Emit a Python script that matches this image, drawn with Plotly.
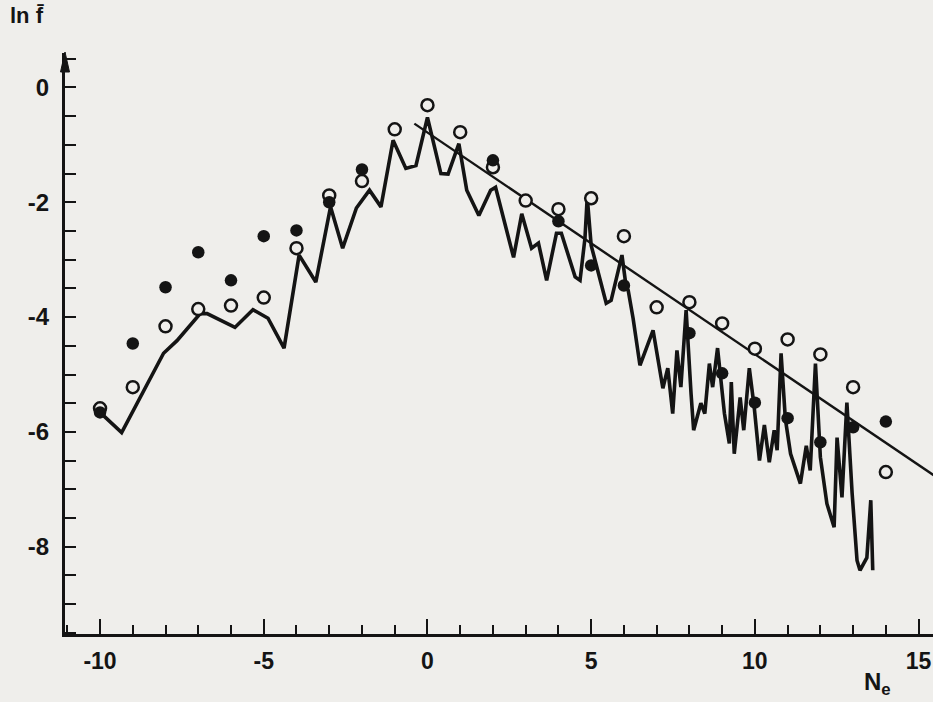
import plotly.graph_objects as go

# integer abscissae for the point series
pts_x = list(range(-10, 15))
open_y = [-5.59, -5.22, -4.16, -3.86, -3.80, -3.66, -2.80, -1.88, -1.63, -0.73,
          -0.31, -0.78, -1.39, -1.97, -2.12, -1.93, -2.59, -3.83, -3.74, -4.11,
          -4.55, -4.39, -4.65, -5.22, -6.70]
filled_y = [-5.66, -4.46, -3.48, -2.87, -3.36, -2.59, -2.49, -2.00, -1.43, None,
            None, None, -1.27, None, -2.33, -3.10, -3.45, None, -4.28, -4.98,
            -5.49, -5.76, -6.18, -5.92, -5.82]

line_x = [-10.0, -9.34, -8.06, -7.65, -6.94, -6.73, -5.88, -5.33, -4.87, -4.38,
          -3.92, -3.41, -2.96, -2.59, -2.17, -1.77, -1.42, -1.05, -0.66, -0.35,
          0.0, 0.41, 0.63, 0.96, 1.2, 1.57, 1.93, 2.08, 2.63, 2.88,
          3.18, 3.39, 3.64, 3.94, 4.09, 4.51, 4.66, 4.81, 4.88, 5.0,
          5.46, 5.61, 5.94, 6.07, 6.13, 6.28, 6.49, 6.89, 7.19, 7.34,
          7.49, 7.62, 7.74, 7.9, 8.05, 8.13, 8.35, 8.47, 8.61, 8.71,
          8.86, 9.07, 9.22, 9.28, 9.37, 9.55, 9.66, 9.83, 9.98, 10.14,
          10.29, 10.44, 10.59, 10.68, 10.8, 10.93, 11.09, 11.39, 11.57, 11.69,
          11.85, 12.0, 12.2, 12.42, 12.51, 12.66, 12.81, 12.97, 13.12, 13.21,
          13.42, 13.54, 13.6]
line_y = [-5.66, -6.01, -4.63, -4.41, -3.94, -3.94, -4.18, -3.87, -4.02, -4.54,
          -2.92, -3.39, -2.08, -2.80, -2.10, -1.79, -2.08, -0.92, -1.41, -1.36,
          -0.52, -1.50, -1.51, -0.98, -1.79, -2.23, -1.79, -1.74, -2.96, -2.20,
          -2.80, -2.71, -3.36, -2.54, -2.54, -3.30, -3.36, -2.63, -1.91, -2.75,
          -3.76, -3.71, -2.92, -3.48, -3.53, -4.02, -4.84, -4.23, -5.24, -4.89,
          -5.68, -4.58, -5.22, -3.88, -5.33, -5.97, -5.50, -5.68, -4.81, -5.22,
          -4.54, -5.68, -6.20, -5.13, -6.38, -5.40, -5.97, -4.89, -5.57, -6.50,
          -5.88, -6.53, -5.97, -6.32, -4.63, -5.77, -6.38, -6.90, -6.24, -6.67,
          -4.81, -6.44, -7.25, -7.66, -6.10, -7.14, -5.49, -7.07, -8.24, -8.41,
          -8.19, -7.19, -8.41]

fit_x = [-0.4, 15.5]
fit_y = [-0.63, -6.77]

x_ticks = [-10, -5, 0, 5, 10, 15]
x_labels = ["-10", "-5", "0", "5", "10", "15"]
y_ticks = [0, -2, -4, -6, -8]
y_labels = ["0", "-2", "-4", "-6", "-8"]

BG = "#efeeeb"
INK = "#141414"

fig = go.Figure()
fig.add_trace(go.Scatter(x=line_x, y=line_y, mode="lines",
                         line=dict(color=INK, width=3.6), hoverinfo="skip"))
fig.add_trace(go.Scatter(x=fit_x, y=fit_y, mode="lines",
                         line=dict(color=INK, width=2.4), hoverinfo="skip"))
fig.add_trace(go.Scatter(x=pts_x, y=open_y, mode="markers",
                         marker=dict(symbol="circle", size=12, color=BG,
                                     line=dict(color=INK, width=2.5))))
fig.add_trace(go.Scatter(x=pts_x, y=filled_y, mode="markers",
                         marker=dict(symbol="circle", size=12.5, color=INK,
                                     line=dict(width=0))))

W, H = 933, 702
L, R, T, B = 65, 0, 53, 68
pw, ph = W - L - R, H - T - B


def px(x):
    return (x - L) / pw


def py(y):
    return (H - B - y) / ph


fig.add_shape(type="path", xref="paper", yref="paper",
              path=f"M {px(65)},{py(52)} L {px(60.5)},{py(72)} L {px(69.5)},{py(72)} Z",
              fillcolor=INK, line=dict(color=INK, width=1))

font_fam = "Liberation Sans, Arial, sans-serif"
fig.add_annotation(xref="paper", yref="paper", x=px(8), y=py(16),
                   xanchor="left", yanchor="middle", showarrow=False,
                   text="<b>ln f\u0304</b>", font=dict(family=font_fam, size=22, color=INK))
fig.add_annotation(xref="paper", yref="paper", x=px(877), y=py(683),
                   xanchor="center", yanchor="middle", showarrow=False,
                   text="<b>N<sub>e</sub></b>", font=dict(family=font_fam, size=24, color=INK))

fig.update_layout(
    width=W, height=H, autosize=False,
    margin=dict(l=L, r=R, t=T, b=B, pad=0),
    paper_bgcolor=BG, plot_bgcolor=BG,
    showlegend=False,
    font=dict(family=font_fam, color=INK),
    xaxis=dict(range=[-11.07, 15.44], showgrid=False, zeroline=False,
               showline=True, linecolor=INK, linewidth=3,
               ticks="inside", tickvals=x_ticks, ticktext=x_labels,
               ticklen=15, tickwidth=2.2, tickcolor=INK,
               minor=dict(ticks="inside", dtick=1, ticklen=9, tickwidth=2.2, tickcolor=INK),
               tickfont=dict(size=23, family=font_fam, color=INK, weight="bold"),
               ticklabelstandoff=4),
    yaxis=dict(range=[-9.52, 0.60], showgrid=False, zeroline=False,
               showline=True, linecolor=INK, linewidth=3,
               ticks="inside", tickvals=y_ticks, ticktext=y_labels,
               ticklen=11, tickwidth=2.2, tickcolor=INK,
               minor=dict(ticks="inside", dtick=0.5, ticklen=11, tickwidth=2.2, tickcolor=INK),
               tickfont=dict(size=24, family=font_fam, color=INK, weight="bold"),
               ticklabelstandoff=8),
)

fig.write_html("out.html")
